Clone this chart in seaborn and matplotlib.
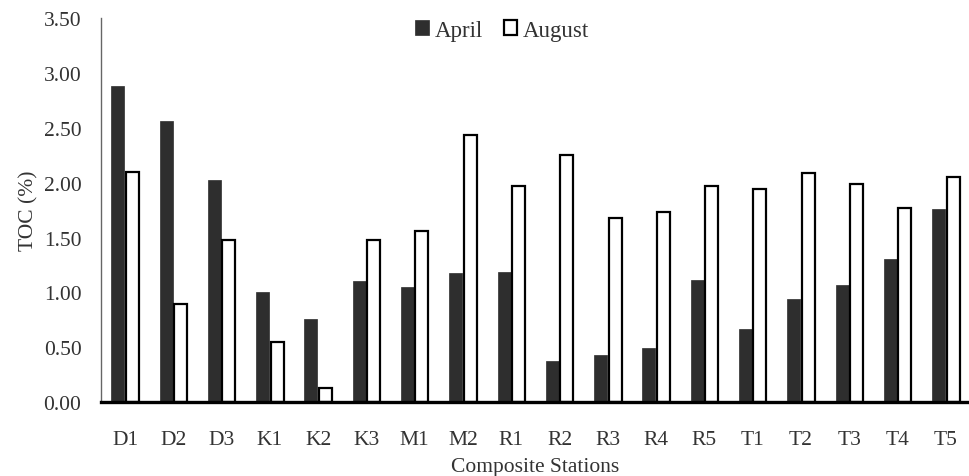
import matplotlib
matplotlib.use("Agg")
import matplotlib.pyplot as plt
import seaborn as sns
import pandas as pd

stations = ["D1", "D2", "D3", "K1", "K2", "K3", "M1", "M2", "R1", "R2",
            "R3", "R4", "R5", "T1", "T2", "T3", "T4", "T5"]
april = [2.88, 2.56, 2.02, 1.00, 0.76, 1.10, 1.05, 1.18, 1.19, 0.37,
         0.43, 0.49, 1.11, 0.67, 0.94, 1.07, 1.30, 1.76]
august = [2.10, 0.89, 1.48, 0.55, 0.13, 1.48, 1.56, 2.43, 1.97, 2.25,
          1.68, 1.73, 1.97, 1.94, 2.09, 1.99, 1.77, 2.05]
months = ["April", "August"]
yticks = [0.0, 0.5, 1.0, 1.5, 2.0, 2.5, 3.0, 3.5]

df = pd.DataFrame({
    "Station": stations * 2,
    "TOC": april + august,
    "Month": [months[0]] * len(stations) + [months[1]] * len(stations),
})

sns.set_theme(style="white")
plt.rcParams["font.family"] = ["Liberation Serif", "DejaVu Serif"]

fig = plt.figure(figsize=(9.7, 4.77), dpi=100)
ax = fig.add_axes([0.104, 0.155, 0.896, 0.805])

sns.barplot(data=df, x="Station", y="TOC", hue="Month", order=stations,
            hue_order=months, palette={"April": "#2e2e2e", "August": "white"},
            width=0.6, gap=0.1, legend=False, ax=ax, saturation=1)

for p in ax.containers[0]:
    p.set_edgecolor("#2e2e2e")
    p.set_linewidth(0.5)
for p in ax.containers[1]:
    p.set_edgecolor("black")
    p.set_linewidth(1.6)

ax.set_xlim(-0.5, len(stations) - 0.5)
ax.set_ylim(0, 3.5)
ax.set_yticks(yticks)
ax.set_yticklabels([f"{v:.2f}" for v in yticks])
ax.tick_params(axis="both", length=0, labelsize=15.5, colors="#333333")
ax.tick_params(axis="x", pad=20)
ax.tick_params(axis="y", pad=14)

for s in ["top", "right"]:
    ax.spines[s].set_visible(False)
ax.spines["left"].set_color("#666666")
ax.spines["left"].set_linewidth(1.0)
ax.spines["bottom"].set_color("black")
ax.spines["bottom"].set_linewidth(2.4)

ax.set_xlabel("Composite Stations", fontsize=15.5, color="#333333", labelpad=6)
ax.set_ylabel("TOC (%)", fontsize=15.5, color="#333333", labelpad=4)

leg = ax.legend(ax.containers, months, loc="upper center",
                bbox_to_anchor=(0.462, 1.05), ncol=2, frameon=False,
                fontsize=16.5, handlelength=0.6, handleheight=0.6,
                handletextpad=0.25, columnspacing=0.9)
for t in leg.get_texts():
    t.set_color("#333333")

fig.savefig("out.png", dpi=100)
